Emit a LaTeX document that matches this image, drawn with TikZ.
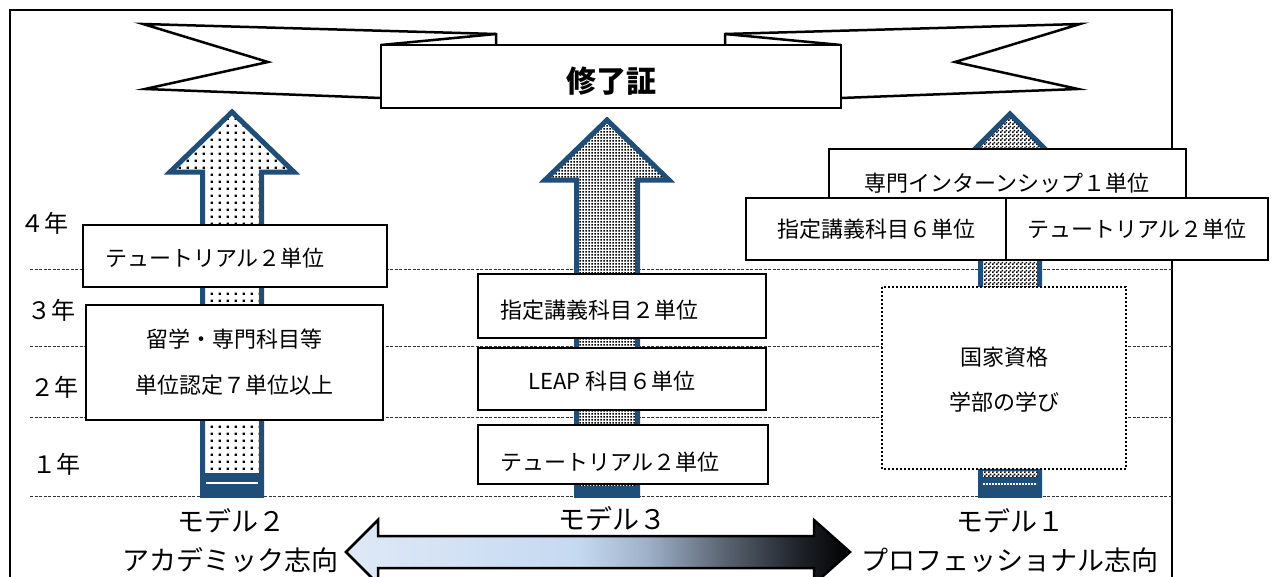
\documentclass[tikz,border=0pt]{standalone}
\usepackage{fontspec}
\setmainfont{Noto Sans CJK JP}
\usetikzlibrary{patterns}
\definecolor{arrowblue}{HTML}{1F4E79}
\definecolor{gA}{HTML}{DFE9F7}
\definecolor{gB}{HTML}{C5D9F1}
\definecolor{gC}{HTML}{9DB0C8}
\definecolor{gD}{HTML}{5A6472}
\definecolor{gE}{HTML}{1E2228}
\pgfdeclarehorizontalshading{bigarrow}{100bp}{color(0bp)=(gA); color(25bp)=(gA); color(48bp)=(gB); color(55bp)=(gC); color(62.5bp)=(gD); color(70bp)=(gE); color(75bp)=(black); color(100bp)=(black)}
\pgfdeclarepatternformonly{sparsedots}{\pgfqpoint{0pt}{0pt}}{\pgfqpoint{8pt}{7pt}}{\pgfqpoint{8pt}{7pt}}{\pgfpathrectangle{\pgfqpoint{3pt}{2.5pt}}{\pgfqpoint{2.4pt}{2.4pt}}\pgfusepath{fill}}
\pgfdeclarepatternformonly{densedots}{\pgfqpoint{0pt}{0pt}}{\pgfqpoint{3pt}{3pt}}{\pgfqpoint{3pt}{3pt}}{\pgfpathrectangle{\pgfqpoint{0.6pt}{0.6pt}}{\pgfqpoint{1.8pt}{1.8pt}}\pgfusepath{fill}}
\pgfdeclarepatternformonly{checker}{\pgfqpoint{0pt}{0pt}}{\pgfqpoint{4pt}{4pt}}{\pgfqpoint{4pt}{4pt}}{\pgfpathrectangle{\pgfqpoint{0pt}{0pt}}{\pgfqpoint{2pt}{2pt}}\pgfpathrectangle{\pgfqpoint{2pt}{2pt}}{\pgfqpoint{2pt}{2pt}}\pgfusepath{fill}}
\begin{document}
\begin{tikzpicture}[x=1pt,y=-1pt,
  box/.style={draw=black, line width=2.6pt, fill=white},
  lbl/.style={inner sep=0pt, font=\fontsize{22}{26}\selectfont},
  year/.style={inner sep=0pt, anchor=west, font=\fontsize{24}{28}\selectfont},
  big/.style={inner sep=0pt, font=\fontsize{27}{31}\selectfont},
  guide/.style={line width=0.9pt, dash pattern=on 3pt off 1.5pt, black!80},
  upar/.style={draw=arrowblue, line width=5pt, preaction={fill=white}},
  ribbon/.style={draw=black, line width=2.5pt, fill=white, line join=miter}]
\useasboundingbox (0,0) rectangle (1277,576);
\clip (0,0) rectangle (1277,576);
\fill[white] (0,0) rectangle (1277,576);
% frame
\draw[line width=2.5pt] (10,10) rectangle (1172,640);
% year guide lines
\foreach \yy in {269,346,417,496} \draw[guide] (30,\yy) -- (1172,\yy);
% ribbon
\filldraw[ribbon] (381,98) -- (145,89) -- (268,62) -- (143,24) -- (496,34) -- (496,46);
\draw[ribbon] (381,45) -- (496,34);
\filldraw[ribbon] (841,98) -- (1078,89) -- (955,62) -- (1080,24) -- (725,34) -- (725,46);
\draw[ribbon] (841,45) -- (725,34);
\draw[ribbon] (381,45) rectangle (841,108);
\node[inner sep=0pt, font=\fontsize{30}{34}\selectfont\bfseries] (cert) at (611,81) {修了証};
% arrows
\draw[upar, pattern=sparsedots] (232,112) -- (294,172) -- (261.5,172) -- (261.5,495) -- (202.5,495) -- (202.5,172) -- (170,172) -- cycle;
\draw[upar, pattern=densedots] (607,120) -- (669,180) -- (637.5,180) -- (637.5,495) -- (576.5,495) -- (576.5,180) -- (545,180) -- cycle;
\draw[upar, pattern=checker] (1010,114) -- (1072,176) -- (1039.5,176) -- (1039.5,495) -- (980.5,495) -- (980.5,176) -- (948,176) -- cycle;
% arrow bottoms
\fill[arrowblue] (200,473) rectangle (264,497.5);
\draw[white, line width=2pt] (206,483) -- (258,483);
\fill[arrowblue] (574,486) rectangle (640,497.5);
\fill[arrowblue] (978,469) rectangle (1042,497.5);
\fill[white] (983,471) rectangle (1037,477);
\fill[pattern=checker] (983,471) rectangle (1037,477);
\draw[white, line width=1.5pt, dash pattern=on 2pt off 1pt] (983,484) -- (1037,484);
% model 2 boxes
\draw[box] (83,225) rectangle (387,287);
\node[lbl, anchor=west] (t2a) at (105,258) {テュートリアル２単位};
\draw[box] (86,305) rectangle (383,420);
\node[lbl] (t2b) at (234,339) {留学・専門科目等};
\node[lbl] (t2c) at (234,385) {単位認定７単位以上};
% model 3 boxes
\draw[box] (478,274) rectangle (766,338);
\node[lbl, anchor=west] (t3a) at (500,310) {指定講義科目２単位};
\draw[box] (478,348) rectangle (766,410);
\node[lbl] (t3b) at (612,381) {LEAP 科目６単位};
\draw[box] (478,425) rectangle (768,484);
\node[lbl, anchor=west] (t3c) at (500,462) {テュートリアル２単位};
% model 1 boxes
\draw[box] (829,149) rectangle (1186,198);
\node[lbl] (t1a) at (1007,183) {専門インターンシップ１単位};
\draw[box] (746,198) rectangle (1006,260);
\node[lbl] (t1b) at (876,229) {指定講義科目６単位};
\draw[box] (1006,198) rectangle (1268,260);
\node[lbl] (t1c) at (1137,229) {テュートリアル２単位};
\draw[line width=2pt, dash pattern=on 2pt off 2pt, fill=white] (882,287) rectangle (1126,469);
\node[lbl] (t1d) at (1004,357) {国家資格};
\node[lbl] (t1e) at (1004,402) {学部の学び};
% year labels
\node[year] (y4) at (20,223) {４年};
\node[year] (y3) at (27,310) {３年};
\node[year] (y2) at (30,387) {２年};
\node[year] (y1) at (32,464) {１年};
% bottom double arrow
\shadedraw[line width=2.5pt, shading=bigarrow]
  (346,552) -- (378,520) -- (378,536) -- (814,536) -- (814,520) -- (850,552) -- (814,584) -- (814,568) -- (378,568) -- (378,584) -- cycle;
% model labels
\node[big] (m2) at (231,521) {モデル２};
\node[big] (a2) at (230,560) {アカデミック志向};
\node[big] (m3) at (612,519) {モデル３};
\node[big] (m1) at (1010,521) {モデル１};
\node[big] (p1) at (1010,560) {プロフェッショナル志向};
\end{tikzpicture}
\end{document}
